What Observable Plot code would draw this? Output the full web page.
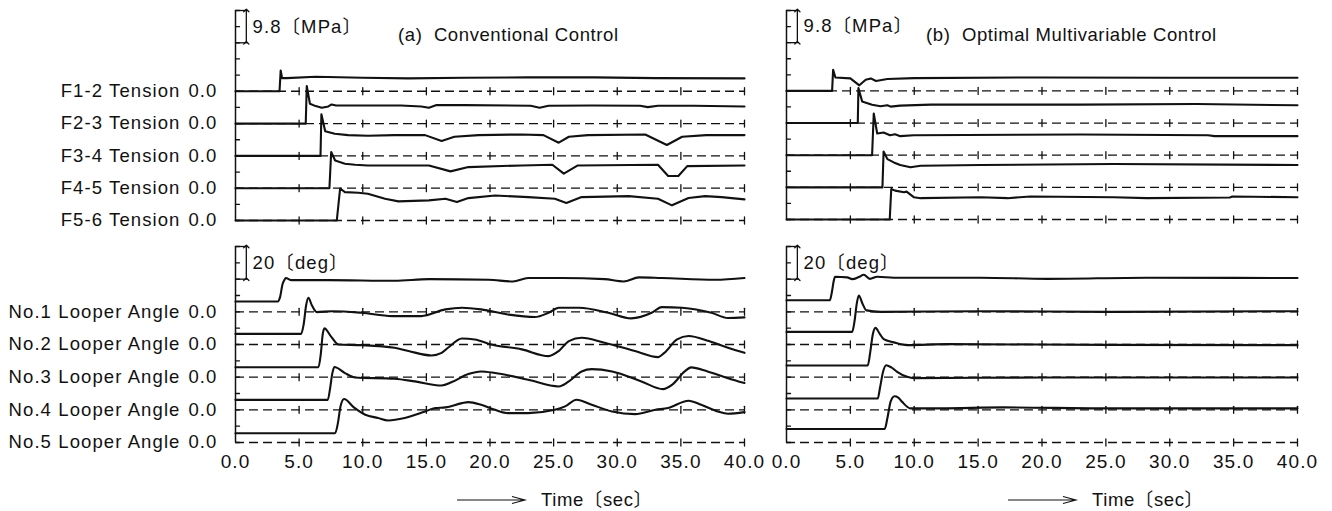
<!DOCTYPE html>
<html>
<head>
<meta charset="utf-8">
<script src="https://cdn.jsdelivr.net/npm/d3@7"></script>
<script src="https://cdn.jsdelivr.net/npm/@observablehq/plot@0.6"></script>
<style>
html, body { margin: 0; padding: 0; background: #fff; }
#chart { position: relative; width: 1332px; height: 511px; overflow: hidden;
  font-family: "Liberation Sans", Arial, "Noto Sans CJK JP", sans-serif; color: #111; }
#chart svg { position: absolute; }
.lbl { position: absolute; font-size: 18.5px; letter-spacing: 0.6px; white-space: pre; transform: translateY(-50%); line-height: 22px; }
</style>
</head>
<body>
<div id="chart"></div>
<script>
// ---------- texts / ticks ----------
const panelTitles = ["(a)  Conventional Control", "(b)  Optimal Multivariable Control"];
const tensionNames = ["F1-2 Tension", "F2-3 Tension", "F3-4 Tension", "F4-5 Tension", "F5-6 Tension"];
const looperNames = ["No.1 Looper Angle", "No.2 Looper Angle", "No.3 Looper Angle", "No.4 Looper Angle", "No.5 Looper Angle"];
const zeroLabel = "0.0";
const timeTicks = [0, 5, 10, 15, 20, 25, 30, 35, 40];
const timeTickLabels = ["0.0", "5.0", "10.0", "15.0", "20.0", "25.0", "30.0", "35.0", "40.0"];
const timeLabel = "Time〔sec〕";
const tensionScaleLabel = "9.8〔MPa〕";
const looperScaleLabel = "20〔deg〕";
const tensionScaleValue = 9.8;   // MPa, trace spacing and scale bar
const tensionTickStep = 4.9;     // MPa
const tensionAxisTop = 63.7;     // MPa
const looperScaleValue = 20;     // deg
const looperTickStep = 10;       // deg
const looperAxisTop = 120;       // deg

// ---------- series: [time (s), value] ----------
// Tension (MPa), conventional control
const tensionConventional = [
  [[0,0],[3.46,0],[3.55,6.3],[3.66,4.0],[4.0,4.0],[6.3,4.4],[10,4.1],[13.6,3.9],[18,4.1],[23,4.2],[28.2,4.2],[33,4.0],[40,3.9]],
  [[0,0],[5.52,0],[5.6,11.4],[5.85,6.0],[6.3,5.3],[6.78,4.8],[7.3,5.2],[7.55,5.8],[7.9,5.5],[10,5.5],[13,5.5],[14.6,5.2],[15.2,4.8],[15.8,5.6],[18,5.6],[23.2,5.4],[23.9,4.8],[24.6,5.4],[28,5.5],[31.8,5.4],[32.4,5.0],[33.2,5.4],[36,5.4],[40,5.2]],
  [[0,0],[6.68,0],[6.75,12.6],[7.05,7.5],[7.8,6.7],[8.85,6.3],[10.4,6.1],[12.5,6.3],[14.9,6.3],[16.2,4.5],[17.2,5.8],[19.1,6.3],[22.5,6.5],[24.2,6.3],[25.4,4.0],[26.2,5.8],[27.7,6.3],[32.2,6.5],[33.9,3.3],[35.1,5.8],[37,6.3],[40,6.3]],
  [[0,0],[7.38,0],[7.52,11.0],[7.83,8.4],[8.6,7.4],[9.4,7.1],[10.4,6.9],[15.2,6.9],[16.9,5.1],[18.3,6.4],[22.5,6.9],[24.9,7.1],[25.8,4.4],[26.9,6.9],[33.2,7.1],[34.0,3.7],[34.8,3.7],[35.5,6.7],[40,6.9]],
  [[0,0],[7.96,0],[8.22,9.7],[8.6,8.6],[9.65,8.4],[10.4,8.1],[11.75,6.6],[12.8,5.8],[15.2,6.1],[16.5,6.6],[17.4,5.6],[18.3,6.8],[20.4,7.6],[23.0,7.1],[25.1,6.6],[26.0,5.3],[27.2,7.1],[30.9,7.4],[33.2,6.6],[34.3,4.6],[35.6,6.8],[36.9,7.4],[38.2,7.1],[40,6.4]]
];
// Tension (MPa), optimal multivariable control
const tensionOptimal = [
  [[0,0],[3.57,0],[3.65,6.4],[3.83,4.1],[5.0,3.8],[5.7,1.7],[6.2,3.4],[6.6,3.8],[7.0,3.0],[7.9,3.6],[10,3.9],[20,4.1],[30,4.0],[40,4.0]],
  [[0,0],[5.58,0],[5.63,10.7],[5.92,6.6],[6.7,5.6],[7.35,5.1],[7.9,5.4],[8.15,5.0],[8.9,5.3],[11.3,5.6],[23,5.6],[32.1,5.8],[40,5.4]],
  [[0,0],[6.7,0],[6.83,12.7],[7.1,6.6],[7.6,6.9],[8.1,6.1],[8.5,6.4],[8.9,5.8],[9.96,6.1],[23,6.3],[33,6.1],[33.5,5.8],[40,5.8]],
  [[0,0],[7.51,0],[7.6,10.9],[7.9,8.6],[8.4,7.6],[8.9,6.8],[9.7,6.1],[10.5,6.6],[15.2,6.8],[25.6,7.1],[40,6.8]],
  [[0,0],[8.08,0],[8.2,9.3],[8.5,8.8],[9.2,8.3],[9.4,8.5],[9.96,6.8],[10.5,6.5],[15.2,6.8],[17.3,6.5],[19.1,7.0],[25.6,6.8],[28.2,6.5],[34.7,6.7],[34.9,7.0],[40,6.8]]
];
// Looper angle (deg), conventional control
const looperConventional = [
  [[0,6.3],[3.32,6.3],[3.5,9],[3.7,17],[3.85,19.6],[3.95,20.7],[4.4,19.4],[7.3,19.4],[12.5,19.0],[15.2,20.0],[19.9,19.6],[21.8,18.6],[23.0,20.7],[25.6,20.7],[29.0,20.0],[30.5,18.6],[31.7,21.1],[33.5,20.7],[37.7,19.6],[40,20.7]],
  [[0,6.5],[5.16,6.5],[5.35,12],[5.55,24],[5.73,28.6],[6.0,24],[6.39,19.8],[7.6,20.4],[9.9,19.4],[12.3,17.4],[14.6,17.4],[16.5,21.5],[17.8,22.5],[19.3,21.5],[21.4,18.4],[23.5,16.8],[24.6,19.4],[25.4,22.5],[27.0,22.5],[29.3,19.4],[31.1,16.0],[32.7,19.4],[33.5,22.9],[35.1,22.5],[37.4,19.4],[38.7,16.2],[40,16.6]],
  [[0,6.1],[6.52,6.1],[6.7,14],[6.85,26],[6.99,29.9],[7.5,25],[8.09,20.0],[9.9,19.6],[12.5,18.0],[13.6,16.0],[15.4,13.3],[16.2,14.9],[16.7,18],[17.8,23.7],[18.8,23.1],[20.1,20.0],[22.5,17.0],[24.6,12.9],[25.4,16.0],[26.2,22.1],[27.2,24.1],[29.0,21.1],[31.4,16.0],[33.2,12.3],[33.7,14.9],[34.7,23.1],[35.6,25.2],[37.2,22.1],[38.7,18.0],[40,14.9]],
  [[0,6.1],[7.25,6.1],[7.45,14],[7.6,22],[7.77,26.2],[8.6,22.5],[9.4,19.8],[12.5,19.0],[14.1,17.4],[16.2,14.9],[17.0,17.0],[18.3,21.9],[19.3,23.5],[20.4,22.5],[23.0,18.4],[25.4,14.3],[26.2,17.4],[27.2,23.5],[28.0,24.9],[29.6,23.5],[31.9,17.4],[33.6,12.7],[34.3,15.3],[35.3,23.5],[35.8,26.0],[37.1,23.5],[38.7,19.4],[40,16.4]],
  [[0,5.7],[7.83,5.7],[8.05,12],[8.25,22],[8.53,26.6],[9.3,21.5],[10.2,17.0],[11.2,15.0],[12.0,13.5],[13.3,15.0],[14.9,19.0],[15.7,21.1],[16.5,21.5],[17.8,24.1],[18.3,24.7],[19.3,23.1],[20.4,20.0],[21.4,18.0],[23.0,18.0],[25.1,20.0],[25.9,22.1],[26.8,26.2],[28.0,23.1],[29.6,19.0],[31.4,17.4],[33.0,20.0],[34.0,21.1],[35.6,25.6],[36.6,23.1],[37.9,19.0],[38.7,17.6],[40,18.6]]
];
// Looper angle (deg), optimal multivariable control
const looperOptimal = [
  [[0,7.1],[3.39,7.1],[3.55,12],[3.7,19],[3.8,21.5],[4.75,21.1],[5.15,20.0],[5.66,21.3],[6.05,22.7],[6.52,20.2],[7.1,21.5],[8.4,20.9],[15.2,20.9],[20.4,20.2],[28.2,20.9],[40,20.7]],
  [[0,7.7],[5.14,7.7],[5.32,14],[5.5,25],[5.66,30.0],[5.95,25],[6.26,20.9],[7.35,20.0],[15.2,20.4],[25.6,20.0],[40,20.4]],
  [[0,7.1],[6.36,7.1],[6.55,15],[6.75,26],[6.96,30.2],[7.3,26.5],[7.61,23.3],[8.4,21.3],[9.44,19.6],[12.6,20.2],[25,19.8],[40,19.6]],
  [[0,6.9],[7.14,6.9],[7.33,14],[7.55,23],[7.8,27.3],[8.2,26],[8.66,23.3],[9.44,20.2],[10.0,19.4],[20,19.8],[40,19.8]],
  [[0,8.3],[7.69,8.3],[7.9,15],[8.15,25],[8.45,28.3],[8.75,27.5],[9.05,24.9],[9.7,20.9],[12,20.9],[17,21.5],[25,20.9],[40,20.9]]
];

// ---------- drawing ----------
const FONT = '"Liberation Sans", Arial, "Noto Sans CJK JP", sans-serif';
const INK = "#111";
const chart = document.getElementById("chart");
const lineShape = {draw(ctx, l) { ctx.moveTo(0, 0); ctx.lineTo(0, -l); }};

function group(o) {
  const n = o.traces.length;
  const zeros = o.names.map((_, i) => (n - 1 - i) * o.step);
  const rows = o.traces.flatMap((tr, i) => tr.map(([t, v]) => ({t, v: v + zeros[i], id: i})));
  const ticks = d3.range(Math.round(o.top / o.tickStep) + 1).map(k => k * o.tickStep);
  const crosses = zeros.flatMap(z => timeTicks.filter(t => t > 0).map(t => ({t, z})));
  const marks = [
    Plot.ruleY(zeros, {x1: 0, x2: 40, stroke: INK, strokeWidth: 1.3, strokeDasharray: "9,5"}),
    Plot.vector(crosses, {x: "t", y: "z", length: 7, rotate: 0, anchor: "middle", shape: lineShape, stroke: INK, strokeWidth: 1.3}),
    Plot.ruleX([0], {y1: 0, y2: o.top, stroke: INK, strokeWidth: 1.5}),
    Plot.vector(ticks, {x: 0, y: d => d, length: 4, rotate: 90, anchor: "start", shape: lineShape, stroke: INK, strokeWidth: 1.3}),
    Plot.ruleY([o.top - o.step, o.top], {x1: 0, x2: 1.0, stroke: INK, strokeWidth: 1.3}),
    Plot.link([{a: o.top - o.step, b: o.top}], {x1: 0.85, x2: 0.85, y1: "a", y2: "b", markerStart: "arrow", markerEnd: "arrow", stroke: INK, strokeWidth: 1.3}),
    Plot.text([o.scaleLabel], {x: 0, y: o.top - o.step / 2, text: d => d, dx: 17, textAnchor: "start", fill: INK, fontSize: 18.5}),
    Plot.line(rows, {x: "t", y: "v", z: "id", curve: o.curve, stroke: INK, strokeWidth: 2.1})
  ];
  if (o.showNames) {
    marks.push(
      Plot.text(o.names, {x: 0, y: (d, i) => zeros[i], text: d => d, textAnchor: "end", dx: -55, fill: INK}),
      Plot.text(o.names, {x: 0, y: (d, i) => zeros[i], text: () => zeroLabel, textAnchor: "end", dx: -18, fill: INK})
    );
  }
  if (o.showTime) {
    marks.push(Plot.axisX({ticks: timeTicks, tickFormat: d => timeTickLabels[timeTicks.indexOf(d)],
      tickSize: 0, tickPadding: 12, fontSize: 19, label: null, fill: INK}));
  }
  const svg = Plot.plot({
    width: o.width, height: o.height,
    marginLeft: o.ml, marginRight: o.mr, marginTop: o.mt, marginBottom: o.mb,
    x: {domain: [0, 40], axis: null, label: null},
    y: {domain: [0, o.top], axis: null, label: null},
    style: {fontFamily: FONT, fontSize: "18.5px", letterSpacing: "1.1px", background: "transparent", overflow: "visible", color: INK},
    marks
  });
  svg.style.left = o.left + "px";
  svg.style.top = o.y + "px";
  chart.appendChild(svg);
}

const panels = [
  {left: 0, width: 760, ml: 235, mr: 16, tension: tensionConventional, looper: looperConventional, names: true, tmb: 10},
  {left: 760, width: 560, ml: 26, mr: 23, tension: tensionOptimal, looper: looperOptimal, names: false, tmb: 11}
];

panels.forEach((p, k) => {
  group({traces: p.tension, names: tensionNames, step: tensionScaleValue, tickStep: tensionTickStep, top: tensionAxisTop,
    scaleLabel: tensionScaleLabel, curve: "linear", left: p.left, y: 0, width: p.width, height: 230,
    ml: p.ml, mr: p.mr, mt: 10, mb: p.tmb, showNames: p.names, showTime: false});
  group({traces: p.looper, names: looperNames, step: looperScaleValue, tickStep: looperTickStep, top: looperAxisTop,
    scaleLabel: looperScaleLabel, curve: "monotone-x", left: p.left, y: 236, width: p.width, height: 260,
    ml: p.ml, mr: p.mr, mt: 10, mb: 54, showNames: p.names, showTime: true});

  const x0 = p.left + p.ml;
  // title
  const t = document.createElement("div");
  t.className = "lbl";
  t.style.left = (x0 + 163 + (k ? -23 : 0)) + "px";
  t.style.top = "35px";
  t.textContent = panelTitles[k];
  chart.appendChild(t);
  // time axis label with arrow
  const ns = "http://www.w3.org/2000/svg";
  const a = document.createElementNS(ns, "svg");
  a.setAttribute("width", 80); a.setAttribute("height", 12);
  a.style.left = (x0 + 222) + "px"; a.style.top = "494px";
  a.innerHTML = '<path d="M0,6H68M55,2.5L68,6L55,9.5" fill="none" stroke="#111" stroke-width="1.1"/>';
  chart.appendChild(a);
  const tl = document.createElement("div");
  tl.className = "lbl";
  tl.style.left = (x0 + 306) + "px";
  tl.style.top = "500px";
  tl.textContent = timeLabel;
  chart.appendChild(tl);
});
</script>
</body>
</html>
